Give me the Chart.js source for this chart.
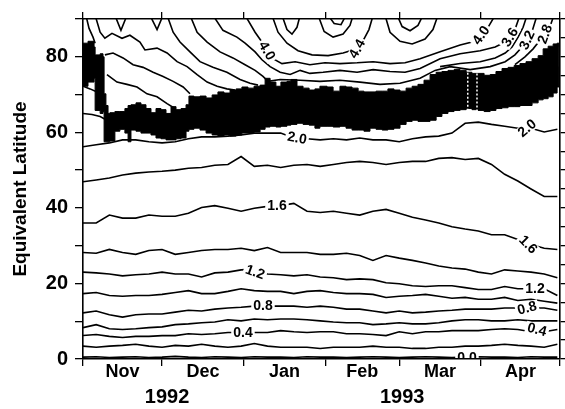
<!DOCTYPE html>
<html><head><meta charset="utf-8">
<script src="https://cdn.jsdelivr.net/npm/chart.js@4.4.1/dist/chart.umd.min.js"></script>
<style>html,body{margin:0;padding:0;background:#fff}</style>
</head><body>
<canvas id="c" width="565" height="409"></canvas>
<script>
// ---- x positions (days since 1 Nov 1992) ----
const days = [0,5,10,15,20,25,30,35,40,45,50,55,60,65,70,75,80,85,90,95,100,105,110,115,120,125,130,135,140,145,150,155,160,165,170,175,180];
// ---- contour lines below the vortex edge (equivalent latitude, deg) ----
const c00 = [0.5,0.6,0.4,0.5,0.6,0.4,0.5,0.7,0.5,0.4,0.6,0.5,0.4,0.6,0.5,0.5,0.4,0.6,0.5,0.5,0.4,0.5,0.6,0.5,0.4,0.5,0.6,0.5,0.4,0.5,0.6,0.5,0.5,0.4,0.6,0.5,0.5];
const c02 = [3.4,3.1,3.4,3.6,3.9,3.4,3.1,3.6,3.4,3.9,3.4,3.1,3.4,4.1,3.4,3.1,3.1,3.1,2.8,3.1,3.1,3.1,3.4,3.1,3.1,2.8,2.8,3.1,3.1,3.4,3.4,3.6,3.9,3.6,3.4,3.1,3.9];
const c04 = [6.2,6.5,6.0,5.7,6.0,6.0,6.2,6.2,6.7,6.5,6.7,7.0,7.0,7.0,7.0,7.5,7.2,7.0,7.2,7.2,6.7,6.7,6.5,6.2,7.2,6.7,7.2,7.2,7.5,7.5,7.5,7.8,8.0,7.8,7.2,7.2,7.8];
const c06 = [8.3,9.1,8.0,7.8,8.0,8.3,8.5,9.1,9.3,9.6,9.8,10.4,10.1,10.6,10.4,10.6,10.6,10.4,10.1,9.8,9.6,9.6,9.1,9.3,9.6,9.3,9.3,9.6,10.1,10.4,10.4,10.1,10.1,10.4,10.1,10.1,10.1];
const c08 = [12.2,12.7,11.7,11.1,11.7,11.9,11.9,12.4,12.9,12.7,13.2,13.5,13.7,14.0,14.0,14.0,14.0,13.7,14.0,13.7,13.2,13.2,12.7,12.2,12.7,12.2,12.4,12.7,12.9,13.2,13.2,13.2,13.5,13.5,13.5,13.5,12.9];
const c10 = [17.3,17.6,16.8,16.6,16.8,16.8,17.1,17.6,18.1,17.3,17.3,17.9,18.6,18.1,17.9,17.9,17.3,17.9,18.1,17.6,17.3,17.3,17.1,16.3,16.6,16.8,17.1,16.6,16.1,16.3,15.8,15.8,16.3,15.5,15.8,15.3,14.8];
const c12 = [23.0,22.8,22.5,22.0,22.3,22.5,23.0,22.5,22.5,21.7,22.8,23.0,23.6,23.8,22.5,22.3,22.0,22.3,21.7,21.5,21.0,21.2,21.0,20.2,19.9,19.4,19.2,19.4,19.4,18.9,18.4,18.4,19.2,18.6,18.6,18.6,16.8];
const c14 = [28.2,28.0,29.0,28.2,27.7,28.7,29.0,27.7,28.2,28.7,29.0,29.0,29.3,28.7,29.5,28.2,28.2,28.2,27.7,27.7,28.0,27.4,26.1,27.4,26.7,26.1,25.4,24.6,24.1,23.8,23.0,22.5,23.6,23.3,23.0,22.5,21.5];
const c16 = [36.0,36.0,38.1,37.3,37.3,38.1,37.8,37.8,38.6,40.1,40.6,39.9,39.1,39.9,40.4,40.6,41.2,39.1,38.8,39.1,38.6,38.1,39.1,39.6,38.6,37.5,36.8,36.0,35.0,34.4,33.9,32.9,32.9,31.6,30.3,29.3,29.0];
const c18 = [46.9,47.4,47.9,48.7,49.2,49.5,49.7,50.0,50.5,50.7,51.3,51.5,53.6,51.0,51.3,50.7,51.3,51.5,51.0,51.5,52.0,52.3,52.0,51.5,52.0,52.3,52.3,53.1,53.3,52.8,53.1,51.5,48.9,47.1,45.0,43.0,43.0];
const c20 = [56.2,56.7,57.2,58.0,58.0,57.5,57.2,57.5,58.3,58.8,58.8,59.0,59.3,59.8,59.8,59.8,58.5,58.3,58.0,58.3,58.0,58.5,58.0,58.0,57.5,58.3,58.8,59.0,59.8,62.4,62.7,62.1,61.6,61.1,61.1,60.1,60.8];
// ---- contour pieces above the vortex edge (values > 90 run off the top edge) ----
const u1Days = [9.1,12.9,16.7,20.5,24.3,28.1,31.9,34.9];
const u1Lat  = [75.3,73.3,72.7,72.0,70.2,69.4,67.6,66.3];
const u2Days = [8.3,11.4,15.2,19.0,22.8,26.6,30.4,34.2,38.0,40.6];
const u2Lat  = [80.5,81.0,79.7,77.9,77.2,75.9,74.8,73.5,72.0,70.2];
const u3Days = [4.6,6.5,8.3,11.0,14.8,17.8,21.6,23.5,28.1,31.9,35.7,39.5,43.3,47.1,50.9,54.6,57.7];
const u3Lat  = [91,86.5,84.9,86.2,84.9,85.7,83.9,81.8,82.3,81.0,78.7,77.4,75.3,73.3,72.2,71.5,71.2];
const u4Days = [31.9,34.2,36.8,40.6,44.4,49.3,54.6,59.6,63.4,66.4];
const u4Lat  = [91,86.5,83.9,81.3,78.7,77.2,75.9,74.0,73.0,72.5];
const u5Days = [40.6,43.3,47.1,52.0,56.9,61.5,65.3,68.3,70.2,74.8,82.4,89.9,97.5,105.1,112.7,120.3,127.9,133.6,139.3,146.9,154.5,160.2,163.9,166.6,168.5,170.4,172.3];
const u5Lat  = [91,86.5,83.9,81.3,79.7,77.9,76.4,74.8,73.5,74.0,73.8,73.5,73.8,73.3,72.7,73.0,74.3,76.4,77.4,76.6,77.4,78.7,80.5,82.6,84.4,86.7,91];
const u5bDays = [135.5,143.1,150.7,156.4,160.2,162.8,165.1,167.0,168.5];
const u5bLat  = [77.4,78.2,78.7,79.7,81.0,82.6,85.2,87.8,91];
const u6Days = [49.3,53.1,58.4,61.5,65.3,67.9,71.0,74.8,78.6,82.4,86.1,91.1,97.5,104.0,110.1,116.5,122.2,127.9,135.5,143.1,150.7,156.4,160.2,162.0,163.9,165.8];
const u6Lat  = [91,87.0,85.2,83.6,81.3,79.2,77.4,75.9,75.3,76.4,75.6,75.9,76.4,75.9,76.6,76.1,75.9,76.9,79.5,80.8,81.6,82.6,83.9,85.2,87.2,91];
const u7Days = [61.5,65.3,67.9,69.8,72.1,75.5,80.5,86.1,91.8,97.5,104.0,110.1,116.5,122.2,127.9,135.5,143.1,147.6,151.0,153.7,156.4];
const u7Lat  = [91,86.5,83.9,81.6,79.5,78.2,78.7,77.9,78.4,78.2,78.4,78.7,78.2,78.4,79.5,81.3,83.1,83.9,85.7,87.8,91];
const u8Days = [71.7,74.0,77.4,81.6,86.9,93.0,98.7,104.0,106.6,108.5,110.1];
const u8Lat  = [91,86.5,83.6,81.6,80.5,80.3,81.0,82.1,84.7,87.2,91];
const u10Days = [114.6,116.5,120.3,124.9,129.8,132.8,134.7];
const u10Lat  = [91,86.5,84.1,83.4,84.7,87.2,91];
const u11Days = [119.2,121.1,124.1,127.1,129.0];
const u11Lat  = [91,88.0,86.9,88.3,91];
const u12Days = [75.5,77.4,79.3,81.2,82.4];
const u12Lat  = [91,87.2,86.0,87.8,91];
const u13Days = [89.2,91.5,94.9,98.7,101.3,102.5];
const u13Lat  = [91,86.7,85.2,86.0,88.3,91];
const u14Days = [93.0,95.3,97.9,99.8];
const u14Lat  = [91,88.8,88.5,91];
const u15Days = [12.1,14.4,16.7];
const u15Lat  = [91,87.0,91];
const u16Days = [25.4,28.1,30.4];
const u16Lat  = [91,87.2,91];
const u17Days = [163.9,167.7,170.8,173.4,175.3,177.2,178.7];
const u17Lat  = [77.9,80.0,82.1,84.4,86.0,88.0,91];
const u19Days = [0,2.7,5.3,7.6];
const u19Lat  = [72.2,71.5,70.7,69.6];
const u20Days = [0,3.4,6.5,9.1];
const u20Lat  = [65.0,64.7,64.2,63.2];
const u21Days = [1.1,2.3,3.8,4.6];
const u21Lat  = [91,87.5,85.2,83.6];
// ---- dense vortex-edge band ----
const blobDays = [0,1.9,4.2,4.6,6.5,7.6,8.0,8.7,9.5,10.2,12.1,14.0,15.9,17.1,18.2,20.1,22.0,23.9,25.8,27.7,29.6,31.5,33.4,35.3,37.2,39.1,40.2,42.1,44.4,46.7,49.0,51.2,53.5,55.8,58.1,60.3,62.6,64.9,67.2,69.1,71.0,73.2,75.1,77.4,78.9,81.2,83.5,85.8,88.0,89.9,92.6,94.9,97.5,99.8,102.1,104.4,106.6,108.9,111.2,113.5,115.7,118.0,120.3,122.6,124.9,127.1,129.4,131.7,134.0,136.2,138.5,140.8,143.1,145.4,147.6,149.9,152.2,154.5,156.7,159.0,161.3,163.6,165.8,168.1,170.4,172.7,174.6,176.5,178.4,179.9,180.6];
const blobTop = [83.6,84.1,82.6,80.5,80.8,80.0,70.2,67.1,65.0,65.2,65.5,65.5,66.3,67.1,67.3,67.8,67.3,66.3,65.2,66.3,66.0,65.0,66.8,66.0,66.3,67.3,69.6,69.4,69.6,69.1,69.9,70.7,70.4,71.2,71.5,72.0,71.7,72.2,72.5,74.3,73.3,72.2,73.3,73.5,74.0,72.2,71.7,71.2,71.5,72.2,72.0,70.9,72.2,72.0,71.7,70.9,70.7,70.7,70.9,70.9,71.5,71.2,70.9,71.7,72.2,72.7,73.8,75.3,75.9,76.1,76.4,76.6,76.4,75.9,75.6,75.6,75.1,75.3,76.1,76.9,77.2,77.7,78.2,78.7,79.5,80.3,82.1,82.8,83.4,83.6,82.6];
const blobBottom = [72.2,73.3,74.3,65.8,65.0,65.5,57.5,57.5,57.5,57.7,60.3,60.8,59.8,57.5,60.6,60.3,59.8,59.8,59.3,58.5,58.3,58.0,58.0,58.3,58.5,60.3,60.8,61.1,60.6,59.8,59.3,59.0,59.3,59.0,59.3,59.8,59.8,60.1,60.8,61.4,61.6,61.4,61.6,61.9,62.1,62.4,62.1,61.9,61.1,61.6,61.6,61.4,61.6,61.1,60.6,60.6,60.3,61.1,60.8,60.6,60.8,61.1,62.1,62.9,63.2,62.9,62.9,63.2,64.2,65.0,65.5,65.8,66.0,66.3,66.0,65.8,65.5,65.8,66.3,66.5,66.8,66.8,67.1,67.1,67.8,68.6,68.9,69.4,70.4,72.0,77.4];
// data gaps (white dotted verticals)
const gapDays = [146, 149.5];
const gapTop = [75.8, 75.6];
const gapBottom = [65.6, 65.5];
// ---- contour labels ----
const labelText  = ['0.0','0.4','0.4','0.8','0.8','1.2','1.2','1.6','1.6','2.0','2.0','4.0','4.4','4.0','3.6','3.2','2.8'];
const labelDay   = [145.7,60.7,172.3,68.3,168.5,65.3,171.5,73.6,168.9,81.2,168.5,69.8,104.0,151.0,162.0,168.5,175.3];
const labelLat   = [0.3,7.0,7.8,14.0,13.5,23.0,18.6,40.6,30.3,58.5,61.1,81.6,82.1,85.7,85.2,84.4,86.0];
const labelAngle = [0,0,15,0,-15,20,0,0,45,10,-40,60,-60,-55,-60,-65,-70];
// ---- axes ----
const monthBounds = [0,30,61,92,120,151,181];
const monthMid = [15,45.5,76.5,106,135.5,166];
const monthNames = ['Nov','Dec','Jan','Feb','Mar','Apr'];
const yearPos = [31.9,121.1];
const yearNames = ['1992','1993'];
const yTicks = [0,5,10,15,20,25,30,35,40,45,50,55,60,65,70,75,80,85,90];
const yLabelled = [0,20,40,60,80];

const FONT = "'Liberation Sans', Arial, Helvetica, sans-serif";
const pts = (xs, ys) => xs.map((x, i) => ({x, y: ys[i]}));
const datasets = [];
gapDays.forEach((d, i) => datasets.push({data: [{x: d, y: gapTop[i]}, {x: d, y: gapBottom[i]}], borderColor: '#fff', borderWidth: 1.5, borderDash: [2, 2]}));
[c00,c02,c04,c06,c08,c10,c12,c14,c16,c18,c20].forEach(c => datasets.push({data: pts(days, c), borderColor: '#000', borderWidth: 1.6}));
[[u1Days,u1Lat],[u2Days,u2Lat],[u3Days,u3Lat],[u4Days,u4Lat],[u5Days,u5Lat],[u5bDays,u5bLat],[u6Days,u6Lat],[u7Days,u7Lat],[u8Days,u8Lat],
 [u10Days,u10Lat],[u11Days,u11Lat],[u12Days,u12Lat],[u13Days,u13Lat],[u14Days,u14Lat],[u15Days,u15Lat],[u16Days,u16Lat],[u17Days,u17Lat],
 [u19Days,u19Lat],[u20Days,u20Lat],[u21Days,u21Lat]]
  .forEach(([d, l]) => datasets.push({data: pts(d, l), borderColor: '#000', borderWidth: 1.6}));
datasets.push({data: pts(blobDays, blobBottom), borderColor: '#000', borderWidth: 1, fill: false, stepped: true});
datasets.push({data: pts(blobDays, blobTop), borderColor: '#000', borderWidth: 1, fill: '-1', backgroundColor: '#000', stepped: true});
datasets.forEach(d => { d.xAxisID = 'x'; d.yAxisID = 'y'; d.pointRadius = 0; d.tension = 0; });

const xTickVals = [...monthBounds, ...monthMid, ...yearPos].sort((a, b) => a - b);
const labelFor = v => {
  const m = monthMid.indexOf(v); if (m >= 0) return monthNames[m];
  const y = yearPos.indexOf(v); if (y >= 0) return ['', yearNames[y]];
  return '';
};

const labelPlugin = {
  id: 'contourLabels',
  afterDatasetsDraw(chart) {
    const {ctx, chartArea: a, scales: {x, y}} = chart;
    ctx.save();
    ctx.beginPath(); ctx.rect(a.left + 1, a.top + 1, a.right - a.left - 2, a.bottom - a.top - 2); ctx.clip();
    ctx.font = `bold 14px ${FONT}`;
    ctx.textAlign = 'center'; ctx.textBaseline = 'middle';
    labelText.forEach((t, i) => {
      const px = x.getPixelForValue(labelDay[i]), py = y.getPixelForValue(labelLat[i]);
      ctx.save(); ctx.translate(px, py); ctx.rotate(labelAngle[i] * Math.PI / 180);
      const w = ctx.measureText(t).width + 4;
      ctx.fillStyle = '#fff'; ctx.fillRect(-w / 2, -6, w, 12);
      ctx.fillStyle = '#000'; ctx.fillText(t, 0, 0.5);
      ctx.restore();
    });
    ctx.restore();
  }
};

const axisBorder = {display: true, color: '#000', width: 1.6};
new Chart(document.getElementById('c'), {
  type: 'line',
  data: {datasets},
  plugins: [labelPlugin],
  options: {
    responsive: false, animation: false, devicePixelRatio: 1,
    layout: {padding: 0},
    plugins: {legend: {display: false}, tooltip: {enabled: false}},
    scales: {
      x: {
        type: 'linear', position: 'bottom', min: 0, max: 181,
        afterBuildTicks: s => { s.ticks = xTickVals.map(v => ({value: v})); },
        afterFit: s => { s.height = 50; },
        border: axisBorder,
        grid: {drawOnChartArea: false, drawTicks: true, tickLength: 7, lineWidth: 1.3,
               tickColor: c => (c.tick && monthBounds.includes(c.tick.value)) ? '#000' : 'rgba(0,0,0,0)'},
        ticks: {autoSkip: false, maxRotation: 0, minRotation: 0, padding: -3, color: '#000',
                font: c => (c.tick && yearPos.includes(c.tick.value))
                  ? {family: FONT, size: 20, weight: 'bold', lineHeight: 1.133}
                  : {family: FONT, size: 18, weight: 'bold', lineHeight: 1},
                callback: v => labelFor(v)}
      },
      x2: {
        type: 'linear', position: 'top', min: 0, max: 181,
        afterBuildTicks: s => { s.ticks = monthBounds.map(v => ({value: v})); },
        afterFit: s => { s.height = 12; },
        border: axisBorder,
        grid: {drawOnChartArea: false, drawTicks: true, tickLength: 7, lineWidth: 1.3, color: '#000'},
        ticks: {display: false}
      },
      y: {
        type: 'linear', position: 'left', min: 0, max: 90,
        afterBuildTicks: s => { s.ticks = yTicks.map(v => ({value: v})); },
        afterFit: s => { s.width = 83; },
        border: axisBorder,
        grid: {drawOnChartArea: false, drawTicks: true, tickLength: 8, lineWidth: 1.3, color: '#000'},
        ticks: {padding: 7, color: '#000', font: {family: FONT, size: 20, weight: 'bold'},
                callback: v => yLabelled.includes(v) ? String(v) : ''},
        title: {display: true, text: 'Equivalent Latitude', color: '#000',
                font: {family: FONT, size: 19, weight: 'bold', lineHeight: 1.2}, padding: {top: 9, bottom: 0}}
      },
      y2: {
        type: 'linear', position: 'right', min: 0, max: 90,
        afterBuildTicks: s => { s.ticks = yTicks.map(v => ({value: v})); },
        afterFit: s => { s.width = 5; },
        border: axisBorder,
        grid: {drawOnChartArea: false, drawTicks: true, tickLength: 5, lineWidth: 1.3, color: '#000'},
        ticks: {display: false}
      }
    }
  }
});
</script>
</body></html>
